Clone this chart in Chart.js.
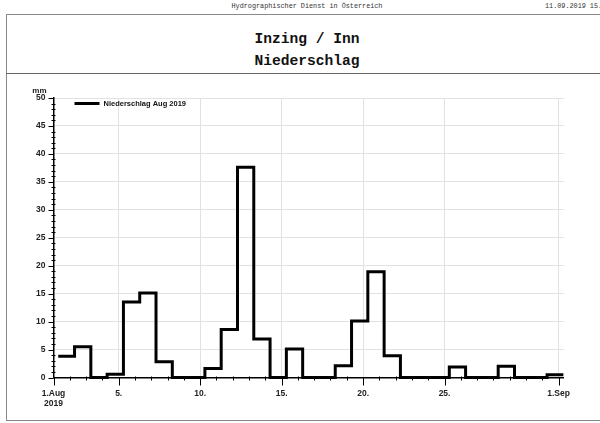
<!DOCTYPE html>
<html>
<head>
<meta charset="utf-8">
<title>Inzing / Inn – Niederschlag</title>
<script src="https://cdn.jsdelivr.net/npm/chart.js@4/dist/chart.umd.min.js"></script>
<style>
  html, body { margin: 0; padding: 0; background: #fff; }
  body { width: 600px; height: 423px; overflow: hidden; position: relative; }
  .mono { font-family: "Liberation Mono", "DejaVu Sans Mono", monospace; color: #111; position: absolute; white-space: nowrap; }
  #head { left: 6px; width: 602px; top: 2px; font-size: 6.8px; line-height: 9px; text-align: center; color: #333; }
  #stamp { left: 545px; top: 2px; font-size: 6.8px; line-height: 9px; color: #333; }
  #frame { position: absolute; left: 6px; top: 14px; width: 640px; height: 407px; border: 1.5px solid #8a8a8a; box-sizing: border-box; }
  #sep { position: absolute; left: 6px; top: 72.5px; width: 640px; height: 0; border-top: 1.5px solid #666; }
  .title { left: 6px; width: 602px; font-size: 14.6px; font-weight: bold; line-height: 16.5px; text-align: center; }
  #t1 { top: 30.5px; }
  #t2 { top: 53px; }
  #chart { position: absolute; left: 0; top: 0; }
</style>
</head>
<body>
<div id="head" class="mono">Hydrographischer Dienst in Österreich</div>
<div id="stamp" class="mono">11.09.2019 15.</div>
<div id="frame"></div>
<div id="sep"></div>
<div id="t1" class="mono title">Inzing / Inn</div>
<div id="t2" class="mono title">Niederschlag</div>
<canvas id="chart" width="600" height="423"></canvas>
<script>
// Daily precipitation, Inzing / Inn, August 2019 (mm per day)
const days = [1, 2, 3, 4, 5, 6, 7, 8, 9, 10, 11, 12, 13, 14, 15, 16,
              17, 18, 19, 20, 21, 22, 23, 24, 25, 26, 27, 28, 29, 30, 31];
const precipitation = [3.8, 5.5, 0, 0.6, 13.5, 15.1, 2.8, 0, 0, 1.6, 8.6, 37.6, 6.9, 0, 5.1, 0,
                       0, 2.1, 10.1, 18.9, 3.9, 0, 0, 0, 1.9, 0, 0, 2.0, 0, 0, 0.5];
const seriesLabel = 'Niederschlag Aug 2019';

// x-axis labels: day offsets from 1 Aug 00:00
const tickOffsets = [0, 4, 9, 14, 19, 24, 31];
const tickLabels = [['1.Aug', '2019'], '5.', '10.', '15.', '20.', '25.', '1.Sep'];
const yTicks = [0, 5, 10, 15, 20, 25, 30, 35, 40, 45, 50];

// each daily total covers 07:00 of that day until 07:00 of the next
const READING_HOUR = 7 / 24;
const points = days.map((d, i) => ({ x: d - 1 + READING_HOUR, y: precipitation[i] }));
points.push({ x: days[days.length - 1] + READING_HOUR, y: precipitation[precipitation.length - 1] });

const tickFont = { family: '"Liberation Sans", Arial, sans-serif', size: 8.5, weight: 'bold' };
const GRID = '#e2e2e2';

// axis tick marks (major at labels, minor at each unit) plus the unit and the legend
const decorations = {
  id: 'decorations',
  afterDraw(chart) {
    const { ctx, chartArea, scales } = chart;
    const xs = scales.x, ys = scales.y;
    const x0 = chartArea.left, y0 = chartArea.bottom;
    ctx.save();
    ctx.strokeStyle = '#000';
    ctx.lineWidth = 1;
    ctx.beginPath();
    for (let v = 0; v <= 50; v++) {
      const y = Math.round(ys.getPixelForValue(v)) + 0.5;
      if (v % 5 === 0) { ctx.moveTo(x0 - 5, y); ctx.lineTo(x0, y); }
      else { ctx.moveTo(x0 - 2, y); ctx.lineTo(x0 + 2, y); }
    }
    for (let d = 0; d <= 31; d++) {
      const x = Math.round(xs.getPixelForValue(d)) + 0.5;
      if (tickOffsets.includes(d)) { ctx.moveTo(x, y0); ctx.lineTo(x, y0 + 8); }
      else { ctx.moveTo(x, y0 - 1); ctx.lineTo(x, y0 + 3); }
    }
    ctx.stroke();

    ctx.fillStyle = '#222';
    ctx.font = 'bold 8px "Liberation Sans", Arial, sans-serif';
    ctx.textAlign = 'right';
    ctx.textBaseline = 'alphabetic';
    ctx.fillText('mm', x0 - 7, chartArea.top - 5);

    // legend
    const ly = chartArea.top + 5.5;
    ctx.lineWidth = 3;
    ctx.beginPath();
    ctx.moveTo(x0 + 21, ly);
    ctx.lineTo(x0 + 46, ly);
    ctx.stroke();
    ctx.font = 'bold 7.5px "Liberation Sans", Arial, sans-serif';
    ctx.textAlign = 'left';
    ctx.textBaseline = 'middle';
    ctx.fillStyle = '#111';
    ctx.fillText(chart.data.datasets[0].label, x0 + 50, ly);
    ctx.restore();
  }
};

new Chart(document.getElementById('chart'), {
  type: 'line',
  data: {
    datasets: [{
      label: seriesLabel,
      data: points,
      stepped: 'before',
      borderColor: '#000',
      borderWidth: 3,
      borderJoinStyle: 'miter',
      borderCapStyle: 'butt',
      pointRadius: 0,
      fill: false,
      clip: { left: 3, right: 3, top: 3, bottom: 3 }
    }]
  },
  options: {
    responsive: false,
    animation: false,
    events: [],
    layout: { padding: { left: 0, top: 98, right: 36.5, bottom: 0 } },
    plugins: { legend: { display: false }, tooltip: { enabled: false } },
    scales: {
      x: {
        type: 'linear',
        min: 0,
        max: 31.3,
        afterBuildTicks(scale) { scale.ticks = tickOffsets.map(v => ({ value: v })); },
        afterFit(scale) { scale.height = 45.5; },
        ticks: {
          autoSkip: false,
          maxRotation: 0,
          padding: 11,
          color: '#222',
          font: tickFont,
          callback(value) { const i = tickOffsets.indexOf(value); return i >= 0 ? tickLabels[i] : ''; }
        },
        grid: {
          drawTicks: false,
          color: ctx => (ctx.tick && ctx.tick.value === 0 ? 'rgba(0,0,0,0)' : GRID),
          lineWidth: 1
        },
        border: { color: '#000', width: 1.5 }
      },
      y: {
        min: 0,
        max: 50,
        afterBuildTicks(scale) { scale.ticks = yTicks.map(v => ({ value: v })); },
        afterFit(scale) { scale.width = 53.5; },
        ticks: { padding: 8, color: '#222', font: tickFont },
        grid: { drawTicks: false, color: GRID, lineWidth: 1 },
        border: { color: '#000', width: 1.5 }
      }
    }
  },
  plugins: [decorations]
});
</script>
</body>
</html>
